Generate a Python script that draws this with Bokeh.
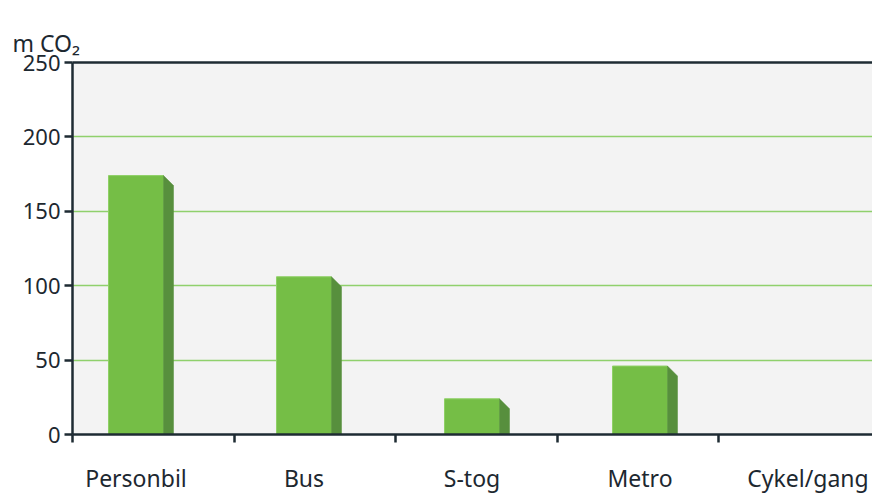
import numpy as np
from bokeh.plotting import figure
from bokeh.models import Range1d, FixedTicker, LinearAxis, Title
from bokeh.embed import file_html
from bokeh.resources import INLINE

# ---- data ----
categories = ["Personbil", "Bus", "S-tog", "Metro", "Cykel/gang"]
values = [174, 106, 24, 46, 0]
y_ticks = [0, 50, 100, 150, 200, 250]
unit_label = "m CO\u2082"

# ---- layout constants (pixels) ----
FRAME_W, FRAME_H = 800, 372
STEP_PX = 168.0          # distance between bar centres
FIRST_CENTER_PX = 63.5   # first bar centre measured from frame left
BOUND_STEP_PX = 161.5    # spacing of boundary tick marks
BAR_W_PX = 55.0
DEPTH_PX = 10.0

x_start = -FIRST_CENTER_PX / STEP_PX
x_end = x_start + FRAME_W / STEP_PX
y_max = y_ticks[-1]
px_x = 1.0 / STEP_PX
px_y = y_max / FRAME_H

xs = np.arange(len(categories), dtype=float)
vals = np.array(values, dtype=float)

FONT = "Noto Sans"
TXT = "#1d2830"
AX = "#1e2b33"

p = figure(width=872, height=496, output_backend="svg", toolbar_location=None,
           x_range=Range1d(x_start, x_end), y_range=Range1d(0, y_max),
           min_border_left=72, min_border_right=0, min_border_top=62, min_border_bottom=62,
           background_fill_color="#f3f3f3", border_fill_color="white",
           outline_line_color=None)

# grid
p.xgrid.visible = False
p.ygrid.ticker = FixedTicker(ticks=y_ticks[1:-1])
p.ygrid.grid_line_color = "#8fd06c"
p.ygrid.grid_line_width = 1.5

# bars - front faces
bw = BAR_W_PX * px_x
mask = vals > 0
p.vbar(x=xs[mask], top=vals[mask], width=bw, bottom=0,
       fill_color="#75be46", line_color="#8fd066", line_width=1)

# bars - side faces (3D look)
dx = DEPTH_PX * px_x
dy = DEPTH_PX * px_y
side_x, side_y = [], []
for x, v in zip(xs[mask], vals[mask]):
    xr = x + bw / 2
    side_x.append([xr, xr, xr + dx, xr + dx])
    side_y.append([0, v, v - dy, 0])
p.patches(side_x, side_y, fill_color="#578f3d", line_color="#578f3d", line_width=0.5)

# y axis
p.yaxis.ticker = FixedTicker(ticks=y_ticks)
p.yaxis.axis_line_color = AX
p.yaxis.axis_line_width = 2.5
p.yaxis.major_tick_line_color = AX
p.yaxis.major_tick_line_width = 2.5
p.yaxis.major_tick_out = 8
p.yaxis.major_tick_in = 0
p.yaxis.minor_tick_line_color = None
p.yaxis.major_label_standoff = 4
p.yaxis.major_label_text_font = FONT
p.yaxis.major_label_text_font_size = "22px"
p.yaxis.major_label_text_color = TXT

# x axis: category labels at bar centres, boundary marks as minor ticks
bstep = BOUND_STEP_PX * px_x
bounds = [x_start + k * bstep for k in range(len(categories)) if x_start + k * bstep <= x_end]
xa = p.xaxis[0]
xa.ticker = FixedTicker(ticks=list(xs), minor_ticks=bounds)
xa.major_label_overrides = {i: c for i, c in enumerate(categories)}
xa.axis_line_color = AX
xa.axis_line_width = 2.5
xa.major_tick_line_color = None
xa.major_tick_out = 0
xa.major_tick_in = 0
xa.minor_tick_line_color = AX
xa.minor_tick_line_width = 2.5
xa.minor_tick_out = 8
xa.minor_tick_in = 0
xa.major_label_standoff = 19
xa.major_label_text_font = FONT
xa.major_label_text_font_size = "23px"
xa.major_label_text_color = TXT

# top frame line (adjacent to the frame) that also spaces the unit title upward
top = LinearAxis(axis_line_color=AX, axis_line_width=2.5, major_tick_line_color=None,
                 minor_tick_line_color=None, major_label_text_color=None,
                 major_label_text_font_size="1px", major_label_standoff=19,
                 major_tick_out=0, major_tick_in=0)
p.add_layout(top, "above")

# unit title, outside the spacer axis
t = Title(text=unit_label, align="left", offset=-60, text_font=FONT,
          text_font_size="23px", text_font_style="normal", text_color=TXT, standoff=0)
p.add_layout(t, "above")

open("out.html", "w").write(file_html(p, INLINE))
